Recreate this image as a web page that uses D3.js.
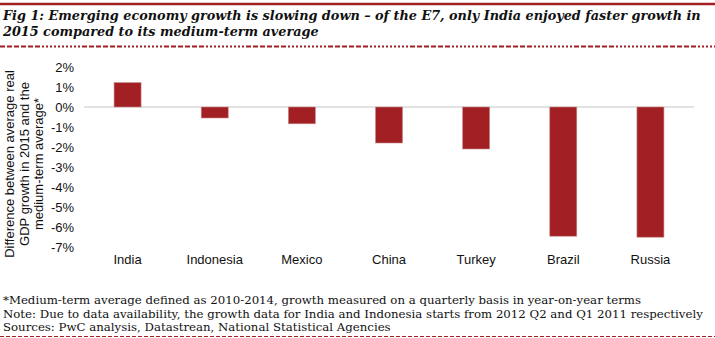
<!DOCTYPE html>
<html>
<head>
<meta charset="utf-8">
<script src="https://cdn.jsdelivr.net/npm/d3@7"></script>
<style>
  body { margin: 0; background: #fff; }
  svg { display: block; }
</style>
</head>
<body>
<svg id="chart" width="715" height="338"></svg>
<script>
// data
let countries = ["India", "Indonesia", "Mexico", "China", "Turkey", "Brazil", "Russia"];
let growthDiff = [1.22, -0.55, -0.84, -1.8, -2.1, -6.46, -6.51];
let yTicks = [2, 1, 0, -1, -2, -3, -4, -5, -6, -7];

let titleLines = [
    "Fig 1: Emerging economy growth is slowing down \u2013 of  the E7, only India enjoyed faster growth in",
    "2015 compared to its medium-term average"
];
let yTitleLines = [
    "Difference between average real",
    "GDP growth in 2015 and the",
    "medium-term average*"
];
let footLines = [
    "*Medium-term average defined as 2010-2014, growth measured on a quarterly basis in year-on-year terms",
    "Note: Due to data availability, the growth data for India and Indonesia starts from 2012 Q2 and Q1 2011 respectively",
    "Sources: PwC analysis, Datastrean, National Statistical Agencies"
];

let redColor = "#a22023";
let textColor = "#111";
let serif = "Georgia, 'DejaVu Serif', serif";
let sans = "'Liberation Sans', Arial, sans-serif";

// shrink/grow font size so the line's natural width matches the target
function fitText(sel, target, baseSize) {
    let w = sel.node().getComputedTextLength();
    sel.style("font-size", (baseSize * target / w).toFixed(2) + "px");
}

function drawChart(svgId) {
    let svg = d3.select(svgId);
    let width = 715;

    let x = d3.scaleBand()
        .domain(countries)
        .range([84, 694])
        .paddingInner(0.69)
        .paddingOuter(0.345);

    let y = d3.scaleLinear()
        .domain([-7, 2])
        .range([247, 67]);

    // header rules
    svg.append("line")
        .attr("x1", 0).attr("x2", width)
        .attr("y1", 4).attr("y2", 4)
        .style("stroke", redColor)
        .style("stroke-width", 2.5);

    // mixed dash / dot pattern like the reference
    let dashPattern = [5, 2, 5, 2, 5, 2, 5, 2, 5, 2, 5, 2, 2, 2, 2, 2, 2, 2, 2, 2, 2, 2, 2, 2, 2, 2, 2, 2, 2, 2, 2, 2];
    svg.append("line")
        .attr("x1", 0).attr("x2", width)
        .attr("y1", 46.5).attr("y2", 46.5)
        .style("stroke", redColor)
        .style("stroke-width", 2)
        .style("stroke-dasharray", dashPattern.join(","));

    // title
    let titleWidths = [698, 314];
    let titleSize = 14;
    titleLines.forEach(function (t, i) {
        let tt = svg.append("text")
            .attr("x", 3)
            .attr("y", 20 + i * 16)
            .text(t)
            .style("font-family", serif)
            .style("font-style", "italic")
            .style("font-weight", "bold")
            .style("font-size", 14 + "px")
            .style("fill", textColor);
        if (i == 0) {
            fitText(tt, titleWidths[0], 14);
            titleSize = parseFloat(tt.style("font-size"));
        } else {
            tt.style("font-size", titleSize + "px");
        }
    });

    // zero line
    svg.append("line")
        .attr("x1", 84).attr("x2", 694)
        .attr("y1", y(0)).attr("y2", y(0))
        .style("stroke", "#d9d9d9")
        .style("stroke-width", 1.5);

    // bars
    svg.selectAll(".bar")
        .data(countries)
        .enter()
        .append("rect")
        .attr("class", "bar")
        .attr("x", d => x(d))
        .attr("width", x.bandwidth())
        .attr("y", (d, i) => y(Math.max(0, growthDiff[i])))
        .attr("height", (d, i) => Math.abs(y(growthDiff[i]) - y(0)))
        .style("fill", redColor)
        .style("stroke", "#c98a8a")
        .style("stroke-width", 0.6);

    // y axis (labels only)
    let yAxis = svg.append("g")
        .attr("transform", "translate(74, 0)")
        .call(d3.axisLeft(y).tickValues(yTicks).tickSize(0).tickPadding(0)
            .tickFormat(d => d + "%"))
        .attr("font-family", sans)
        .attr("font-size", 13);
    yAxis.select(".domain").remove();
    yAxis.selectAll("text").style("fill", textColor);

    // x axis labels
    let xAxis = svg.append("g")
        .attr("transform", "translate(0, 255)")
        .call(d3.axisBottom(x).tickSize(0).tickPadding(0))
        .attr("font-family", sans)
        .attr("font-size", 13);
    xAxis.select(".domain").remove();
    xAxis.selectAll("text").style("fill", textColor);

    // y axis title
    let yTitle = svg.append("text")
        .attr("transform", "translate(0, 164) rotate(-90)")
        .style("font-family", sans)
        .style("font-size", "13px")
        .style("fill", textColor)
        .attr("text-anchor", "middle");
    yTitleLines.forEach(function (t, i) {
        yTitle.append("tspan")
            .attr("x", 0)
            .attr("y", 14 + i * 14.5)
            .text(t);
    });

    // footnotes
    let footSize = 13;
    footLines.forEach(function (t, i) {
        let ft = svg.append("text")
            .attr("x", 3)
            .attr("y", 304 + i * 13.5)
            .text(t)
            .style("font-family", serif)
            .style("font-size", "13px")
            .style("fill", textColor);
        if (i == 1) {
            fitText(ft, 700, 13);
            footSize = parseFloat(ft.style("font-size"));
        }
    });
    svg.selectAll(".foot").remove();
    svg.selectAll("text").filter(function () { return footLines.indexOf(this.textContent) >= 0; })
        .style("font-size", footSize + "px");

    svg.append("line")
        .attr("x1", 0).attr("x2", width)
        .attr("y1", 336.5).attr("y2", 336.5)
        .style("stroke", redColor)
        .style("stroke-width", 1)
        .style("stroke-dasharray", "4,2");
}

drawChart("#chart");
</script>
</body>
</html>
